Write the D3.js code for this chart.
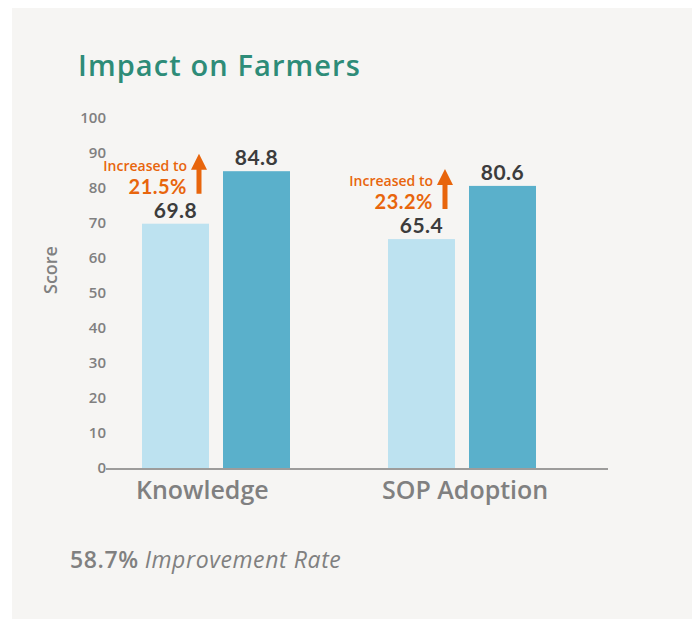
<!DOCTYPE html>
<html>
<head>
<meta charset="utf-8">
<script src="https://cdn.jsdelivr.net/npm/d3@7"></script>
<style>
  body { margin: 0; background: #ffffff; }
  svg { display: block; }
</style>
</head>
<body>
<div id="chart"></div>
<script>
// data
var categories = ["Knowledge", "SOP Adoption"];
var seriesKeys = ["before", "after"];
var beforeValues = [69.8, 65.4];
var afterValues = [84.8, 80.6];
var increaseLabels = ["21.5%", "23.2%"];
var yTicks = [0, 10, 20, 30, 40, 50, 60, 70, 80, 90, 100];

var W = 697, H = 619;
var bodyFont = "'Open Sans', sans-serif";
var svg = d3.select("#chart").append("svg")
    .attr("width", W)
    .attr("height", H);

// panel
svg.append("rect")
    .attr("x", 12).attr("y", 8)
    .attr("width", 680).attr("height", H - 8)
    .attr("fill", "#f6f5f3");

svg.append("text")
    .attr("x", 78).attr("y", 76)
    .attr("font-family", bodyFont)
    .attr("font-weight", 600)
    .attr("font-size", 29)
    .attr("letter-spacing", 1.1)
    .attr("fill", "#2e8c78")
    .text("Impact on Farmers");

var y = d3.scaleLinear().domain([0, 100]).range([468, 118]);
var x0 = d3.scaleBand().domain(categories).range([93, 585]);
var x1 = d3.scaleBand().domain(seriesKeys).range([49, 197]).paddingInner(0.173);
var colors = { before: "#bde2f0", after: "#5ab0cb" };

// y axis labels
var yAxis = svg.append("g")
    .attr("transform", "translate(106,0)")
    .call(d3.axisLeft(y).tickValues(yTicks).tickSize(0).tickPadding(0));
yAxis.select(".domain").remove();
yAxis.selectAll("text")
    .attr("dy", "0.3em")
    .attr("font-family", bodyFont)
    .attr("font-weight", 600)
    .attr("font-size", 15)
    .attr("fill", "#808080");

svg.append("text")
    .attr("transform", "translate(57,270) rotate(-90)")
    .attr("text-anchor", "middle")
    .attr("font-family", bodyFont)
    .attr("font-weight", 600)
    .attr("font-size", 18)
    .attr("fill", "#808080")
    .text("Score");

var rows = categories.map(function(c, i) {
  return { cat: c, before: beforeValues[i], after: afterValues[i], inc: increaseLabels[i] };
});

var groups = svg.selectAll(".grp").data(rows).enter().append("g")
    .attr("class", "grp")
    .attr("transform", function(d) { return "translate(" + x0(d.cat) + ",0)"; });

groups.selectAll("rect").data(function(d) {
  return seriesKeys.map(function(k) { return { key: k, value: d[k] }; });
}).enter().append("rect")
    .attr("x", function(d) { return x1(d.key); })
    .attr("y", function(d) { return y(d.value); })
    .attr("width", x1.bandwidth())
    .attr("height", function(d) { return y(0) - y(d.value); })
    .attr("fill", function(d) { return colors[d.key]; });

groups.selectAll(".val").data(function(d) {
  return seriesKeys.map(function(k) { return { key: k, value: d[k] }; });
}).enter().append("text")
    .attr("class", "val")
    .attr("x", function(d) { return x1(d.key) + x1.bandwidth() / 2; })
    .attr("y", function(d) { return y(d.value) - 6; })
    .attr("text-anchor", "middle")
    .attr("font-family", "Lato, sans-serif")
    .attr("font-weight", 700)
    .attr("font-size", 21)
    .attr("letter-spacing", 0.5)
    .attr("fill", "#3c3c3c")
    .text(function(d) { return d.value.toFixed(1); });

// annotations: arrow + "Increased to"
var ann = groups.append("g")
    .attr("transform", function(d) {
      return "translate(" + (x1("before") + x1.bandwidth() - 10) + "," + (y(d.before) - 30) + ")";
    });

ann.append("path")
    .attr("d", "M-2.5,0 L-2.5,-24 L-8,-24 L0,-40 L8,-24 L2.5,-24 L2.5,0 Z")
    .attr("fill", "#e8650c");

ann.append("text")
    .attr("x", -12).attr("y", -23)
    .attr("text-anchor", "end")
    .attr("font-family", bodyFont)
    .attr("font-weight", 600)
    .attr("font-size", 14)
    .attr("fill", "#e8650c")
    .text("Increased to");

ann.append("text")
    .attr("x", -12).attr("y", 0)
    .attr("text-anchor", "end")
    .attr("font-family", "Lato, sans-serif")
    .attr("font-weight", 700)
    .attr("font-size", 20)
    .attr("letter-spacing", 0.5)
    .attr("fill", "#e8650c")
    .text(function(d) { return d.inc; });

// baseline
svg.append("line")
    .attr("x1", 106).attr("x2", 608)
    .attr("y1", y(0) + 1).attr("y2", y(0) + 1)
    .attr("stroke", "#444").attr("stroke-width", 1.2);

// category labels
svg.selectAll(".cat").data(categories).enter().append("text")
    .attr("class", "cat")
    .attr("x", function(d) { return x0(d) + x1("before") - 6; })
    .attr("y", 499)
    .attr("font-family", bodyFont)
    .attr("font-weight", 600)
    .attr("font-size", 25)
    .attr("fill", "#808080")
    .text(function(d) { return d; });

// footer
var foot = svg.append("text")
    .attr("x", 70).attr("y", 568)
    .attr("font-family", bodyFont)
    .attr("font-size", 23)
    .attr("letter-spacing", 0.6)
    .attr("fill", "#808080");
foot.append("tspan").attr("font-weight", 600).text("58.7%");
foot.append("tspan").attr("font-style", "italic").attr("dx", 6).text("Improvement Rate");
</script>
</body>
</html>
